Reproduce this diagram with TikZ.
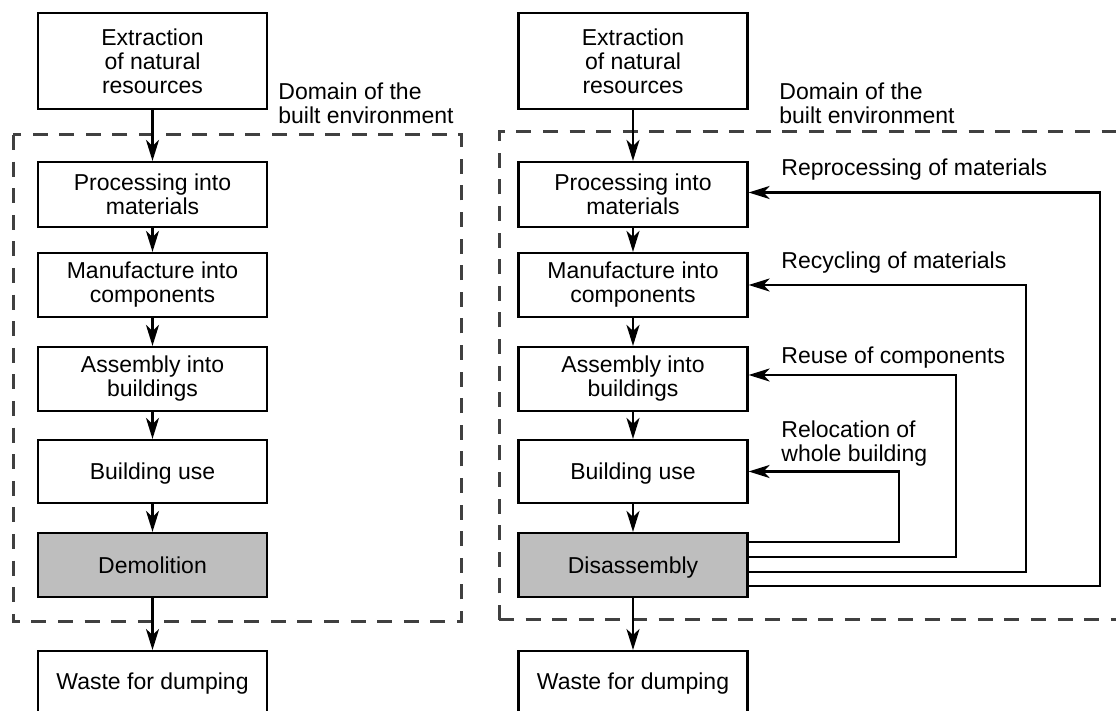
\documentclass[tikz,border=0pt]{standalone}
\usepackage{fontspec}
\setmainfont{Liberation Sans}
\usetikzlibrary{arrows.meta}
\definecolor{boxgray}{RGB}{190,190,190}
\definecolor{dashgray}{RGB}{64,64,64}
\begin{document}
\begin{tikzpicture}[x=0.5pt,y=-0.5pt,
  txt/.style={font=\fontsize{11.5}{12}\selectfont},
  box/.style={txt, draw, line width=1.1pt, minimum width=114.5pt, minimum height=32pt, align=center, inner sep=0pt},
  oneline/.style={text height=8.2pt, text depth=0pt},
  grey/.style={fill=boxgray},
  lbl/.style={txt, align=left, inner sep=0pt, anchor=west},
  arr/.style={line width=1.1pt, -{Stealth[length=10.5pt,width=6.5pt,inset=3pt]}},
  loop/.style={arr, line width=1.3pt},
  dashbox/.style={draw=dashgray, line width=1.5pt, dash pattern=on 7.5pt off 5.8pt}]
\clip (0,0) rectangle (1116,711);
\fill[white] (0,0) rectangle (1116,711);

% left column
\node[box, minimum height=48pt] (lext) at (152.5,61) {Extraction\\of natural\\resources};
\node[box, minimum height=32.5pt] (lproc) at (152.5,194.5) {Processing into\\materials};
\node[box] (lman) at (152.5,285) {Manufacture into\\components};
\node[box] (lasm) at (152.5,379) {Assembly into\\buildings};
\node[box, oneline, minimum height=31.5pt] (luse) at (152.5,471.5) {Building use};
\node[box, oneline, grey] (ldem) at (152.5,565) {Demolition};
\node[box, anchor=north] (lwaste) at (152.5,650) {Waste for dumping};

% right column
\node[box, minimum height=48pt] (rext) at (633,61) {Extraction\\of natural\\resources};
\node[box, minimum height=32.5pt] (rproc) at (633,194.5) {Processing into\\materials};
\node[box] (rman) at (633,285) {Manufacture into\\components};
\node[box] (rasm) at (633,379) {Assembly into\\buildings};
\node[box, oneline, minimum height=31.5pt] (ruse) at (633,471.5) {Building use};
\node[box, oneline, grey] (rdis) at (633,565) {Disassembly};
\node[box, anchor=north] (rwaste) at (633,650) {Waste for dumping};

% domain frames
\draw[dashbox] (13,135) rectangle (461,622);
\draw[dashbox] (499,620) -- (499,132) -- (1125,132);
\draw[dashbox] (499,620) -- (1125,620);

% labels
\node[lbl] (ldom) at (278,103.5) {Domain of the\\built environment};
\node[lbl] (rdom) at (779,103.5) {Domain of the\\built environment};
\node[lbl] (lrep) at (781,170) {Reprocessing of materials};
\node[lbl] (lrec) at (781,263) {Recycling of materials};
\node[lbl] (lreu) at (781,358) {Reuse of components};
\node[lbl] (lrel) at (781,444) {Relocation of\\whole building};

% main flow
\foreach \a/\b in {lext/lproc, lproc/lman, lman/lasm, lasm/luse, luse/ldem, ldem/lwaste,
                   rext/rproc, rproc/rman, rman/rasm, rasm/ruse, ruse/rdis, rdis/rwaste}
  \draw[arr] (\a.south) -- (\b.north);

% loops
\draw[loop] (rdis.east |- 0,542) -- (899,542) |- (ruse.east);
\draw[loop] (rdis.east |- 0,557) -- (956,557) |- ([yshift=2pt]rasm.east);
\draw[loop] (rdis.east |- 0,572) -- (1026,572) |- (rman.east);
\draw[loop] (rdis.east |- 0,586) -- (1100,586) |- ([yshift=1pt]rproc.east);
\end{tikzpicture}
\end{document}
